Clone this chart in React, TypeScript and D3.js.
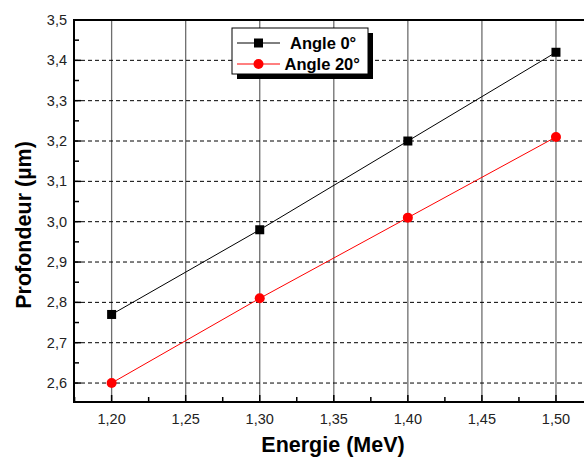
import React from "react";
import * as d3 from "d3";

const energies = [1.2, 1.3, 1.4, 1.5];
const angle0 = [2.77, 2.98, 3.2, 3.42];
const angle20 = [2.6, 2.81, 3.01, 3.21];
const seriesNames = ["Angle 0°", "Angle 20°"];
const xTicks = [1.2, 1.25, 1.3, 1.35, 1.4, 1.45, 1.5];
const yTicks = [2.6, 2.7, 2.8, 2.9, 3.0, 3.1, 3.2, 3.3, 3.4, 3.5];

const W = 584, H = 459;
const left = 74, top = 20, bottom = 402, rightPx = 593;

export default function App() {
  const x = d3.scaleLinear().domain([1.1746, 1.525]).range([left, rightPx]);
  const y = d3.scaleLinear().domain([2.553, 3.5]).range([bottom, top]);
  const fmt = (v: number, d: number) => v.toFixed(d).replace(".", ",");
  const line = d3.line<number>().x((_, i) => x(energies[i])).y((d) => y(d));
  const xMinor = d3.range(0, 8).map((i) => 1.175 + i * 0.05);
  const yMinor = d3.range(0, 10).map((i) => 2.55 + i * 0.1).filter((v) => v > 2.553);
  const font = "'Liberation Sans', Arial, sans-serif";
  return (
    <svg width={W} height={H} style={{ position: "absolute", left: 0, top: 0, background: "#fff" }} fontFamily={font}>
      <rect width={W} height={H} fill="#fff" />
      {/* vertical grid */}
      {xTicks.map((t) => (
        <line key={"vg" + t} x1={x(t)} x2={x(t)} y1={bottom} y2={top} stroke="#6e6e6e" strokeWidth={1.3} />
      ))}
      {/* horizontal grid */}
      {yTicks.slice(0, -1).map((t) => (
        <line key={"hg" + t} x1={left} x2={W} y1={y(t)} y2={y(t)} stroke="#000" strokeWidth={1} strokeDasharray="4,3" />
      ))}
      {/* axes */}
      <line x1={left} x2={W} y1={top} y2={top} stroke="#000" strokeWidth={2} />
      <line x1={left} x2={W} y1={bottom} y2={bottom} stroke="#000" strokeWidth={2} />
      <line x1={left} x2={left} y1={top - 1} y2={bottom + 1} stroke="#000" strokeWidth={2} />
      {/* y ticks */}
      {yTicks.map((t) => (
        <g key={"yt" + t}>
          <line x1={left} x2={left + 7} y1={y(t)} y2={y(t)} stroke="#000" strokeWidth={1.5} />
          <text x={left - 7} y={y(t)} dy="0.35em" textAnchor="end" fontSize={14.5} fill="#222">{fmt(t, 1)}</text>
        </g>
      ))}
      {yMinor.map((t) => (
        <line key={"ym" + t} x1={left} x2={left + 5} y1={y(t)} y2={y(t)} stroke="#000" strokeWidth={1.5} />
      ))}
      {/* x ticks */}
      {xTicks.map((t) => (
        <g key={"xt" + t}>
          <line x1={x(t)} x2={x(t)} y1={bottom} y2={bottom - 7} stroke="#000" strokeWidth={1.5} />
          <text x={x(t)} y={bottom + 22} textAnchor="middle" fontSize={14.5} fill="#222">{fmt(t, 2)}</text>
        </g>
      ))}
      {xMinor.map((t) => (
        <line key={"xm" + t} x1={x(t)} x2={x(t)} y1={bottom} y2={bottom - 5} stroke="#000" strokeWidth={1.5} />
      ))}
      {/* series */}
      <path d={line(angle0) || ""} fill="none" stroke="#000" strokeWidth={1} />
      <path d={line(angle20) || ""} fill="none" stroke="#ff0000" strokeWidth={1} />
      {angle0.map((v, i) => (
        <rect key={"s0" + i} x={x(energies[i]) - 4.5} y={y(v) - 4.5} width={9} height={9} fill="#000" />
      ))}
      {angle20.map((v, i) => (
        <circle key={"s1" + i} cx={x(energies[i])} cy={y(v)} r={5} fill="#ff0000" />
      ))}
      {/* legend */}
      <rect x={237} y={33} width={136} height={46} fill="#000" />
      <rect x={232} y={28} width={136} height={46} fill="#fff" stroke="#000" strokeWidth={1} />
      <line x1={237} x2={280} y1={43} y2={43} stroke="#000" strokeWidth={1} />
      <rect x={254} y={38.5} width={9} height={9} fill="#000" />
      <text x={290} y={43} dy="0.35em" fontSize={16.5} fontWeight="bold">{seriesNames[0]}</text>
      <line x1={237} x2={280} y1={64} y2={64} stroke="#ff0000" strokeWidth={1} />
      <circle cx={258.5} cy={64} r={5} fill="#ff0000" />
      <text x={284.5} y={64} dy="0.35em" fontSize={16.5} fontWeight="bold">{seriesNames[1]}</text>
      {/* titles */}
      <text x={333} y={452} textAnchor="middle" fontSize={21.5} fontWeight="bold">Energie (MeV)</text>
      <text transform={`translate(31,225) rotate(-90)`} textAnchor="middle" fontSize={21.5} fontWeight="bold">Profondeur (µm)</text>
    </svg>
  );
}
